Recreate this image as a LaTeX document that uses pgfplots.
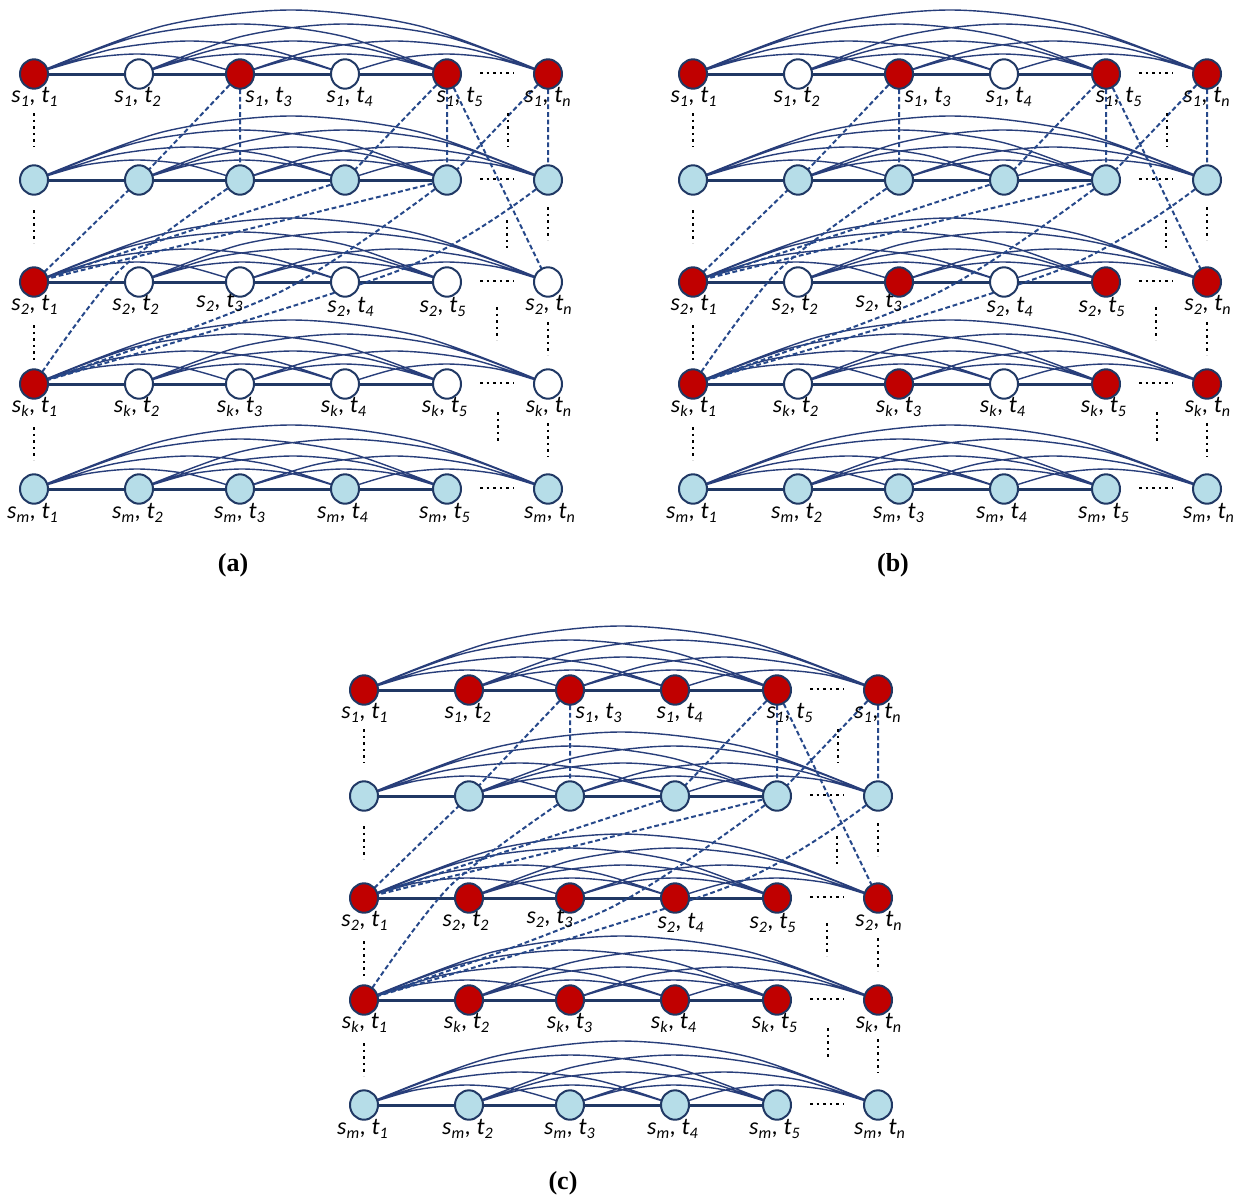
\documentclass[border=0pt]{standalone}
\usepackage{pgfplots}
\pgfplotsset{compat=1.18}
\usepackage{pgfplotstable}
\usepackage{fontspec}
\setmainfont{Liberation Serif}
\newfontfamily\lab{Carlito}

\definecolor{navy}{RGB}{32,56,100}
\definecolor{edge}{RGB}{40,62,122}
\definecolor{dashc}{RGB}{38,72,138}
\definecolor{nred}{RGB}{192,0,0}
\definecolor{nblue}{RGB}{182,221,232}

% all values in pixels of the reference, panel-local (t1 of row 1 at 0,0; y grows downwards)
\pgfplotstableread{
x y
0 0
51.5 -15
103 -20
154.5 -15
206 0
nan nan
105 0
156.5 -15
208 -20
259.5 -15
311 0
nan nan
206 0
257.75 -15
309.5 -20
361.25 -15
413 0
nan nan
311 0
361.75 -15
412.5 -20
463.25 -15
514 0
nan nan
0 0
77.75 -24.75
155.5 -33
233.25 -24.75
311 0
nan nan
105 0
182 -24.75
259 -33
336 -24.75
413 0
nan nan
206 0
283 -24.75
360 -33
437 -24.75
514 0
nan nan
0 0
103.25 -37.5
206.5 -50
309.75 -37.5
413 0
nan nan
105 0
207.25 -37.5
309.5 -50
411.75 -37.5
514 0
nan nan
0 0
128.5 -48
257 -64
385.5 -48
514 0
}\arcs

\pgfplotstableread{
x y
0 0
413 0
nan nan
0 106
413 106
nan nan
0 208
413 208
nan nan
0 310
413 310
nan nan
0 415
413 415
}\hlines

\pgfplotstableread{
x y
206 0
105 106
0 208
nan nan
206 0
206 106
nan nan
413 0
311 106
nan nan
413 0
413 106
nan nan
514 0
413 106
nan nan
514 0
514 106
nan nan
413 0
514 208
nan nan
311 106
0 208
nan nan
413 106
0 208
}\dashes

\pgfplotstableread{
x y
206 106
86 196
0 310
nan nan
413 106
246 218
0 310
nan nan
514 106
366 196
0 310
}\curves

\pgfplotstableread{
x y
0 39
0 73
nan nan
0 136
0 169
nan nan
0 251
0 286
nan nan
0 353
0 386
nan nan
474 39
474 73
nan nan
473 146
473 174
nan nan
514 133
514 166
nan nan
463 233
463 266
nan nan
514 248
514 281
nan nan
464 338
464 369
nan nan
514 349
514 383
nan nan
446 -1
480 -1
nan nan
446 105
480 105
nan nan
446 207
480 207
nan nan
446 309
480 309
nan nan
446 414
480 414
}\dotsT

\pgfplotstableread{
x y
0 106
105 106
206 106
311 106
413 106
514 106
0 415
105 415
206 415
311 415
413 415
514 415
}\blueN

\pgfplotstableread{
x y
0 0
206 0
413 0
514 0
0 208
0 310
}\redA
\pgfplotstableread{
x y
105 0
311 0
105 208
206 208
311 208
413 208
514 208
105 310
206 310
311 310
413 310
514 310
}\whiteA

\pgfplotstableread{
x y
0 0
206 0
413 0
514 0
0 208
206 208
413 208
514 208
0 310
206 310
413 310
514 310
}\redB
\pgfplotstableread{
x y
105 0
311 0
105 208
311 208
105 310
311 310
}\whiteB

\pgfplotstableread{
x y
0 0
105 0
206 0
311 0
413 0
514 0
0 208
105 208
206 208
311 208
413 208
514 208
0 310
105 310
206 310
311 310
413 310
514 310
}\redC

\pgfplotsset{
  table/sh/.style 2 args={x expr=\thisrow{x}+#1, y expr=\thisrow{y}+#2},
  arc/.style={edge, line width=0.7pt, smooth},
  hl/.style={navy, line width=1.5pt},
  dl/.style={dashc, line width=1pt, dash pattern=on 2.4pt off 1.4pt},
  dt/.style={black, line width=1.4pt, dash pattern=on 1.3pt off 2pt},
  nd/.style={only marks, mark=*, mark size=7pt,
    mark options={fill=#1, draw=navy, line width=1pt, yscale=1.05}},
}

\newcommand\st[2]{\textit{s\textsubscript{#1}, t\textsubscript{#2}}}
\newcommand\lb[3]{\node[font=\lab\fontsize{12}{13}\selectfont, inner sep=0pt] at (axis cs:#1,#2) {#3};}

\newcommand\panel[2]{%
  \addplot[arc] table[sh={#1}{#2}] {\arcs};
  \addplot[arc] table[sh={#1}{#2+106}] {\arcs};
  \addplot[arc] table[sh={#1}{#2+208}] {\arcs};
  \addplot[arc] table[sh={#1}{#2+310}] {\arcs};
  \addplot[arc] table[sh={#1}{#2+415}] {\arcs};
  \addplot[hl] table[sh={#1}{#2}] {\hlines};
  \addplot[dl] table[sh={#1}{#2}] {\dashes};
  \addplot[dl, smooth] table[sh={#1}{#2}] {\curves};
  \addplot[dt] table[sh={#1}{#2}] {\dotsT};
  \addplot[nd=nblue] table[sh={#1}{#2}] {\blueN};
  \lb{#1+1}{#2+23}{\st{1}{1}}
  \lb{#1+104}{#2+23}{\st{1}{2}}
  \lb{#1+235}{#2+23}{\st{1}{3}}
  \lb{#1+316}{#2+23}{\st{1}{4}}
  \lb{#1+426}{#2+23}{\st{1}{5}}
  \lb{#1+514}{#2+23}{\st{1}{n}}
  \lb{#1+1}{#2+231}{\st{2}{1}}
  \lb{#1+102}{#2+231}{\st{2}{2}}
  \lb{#1+186}{#2+228}{\st{2}{3}}
  \lb{#1+317}{#2+233}{\st{2}{4}}
  \lb{#1+409}{#2+233}{\st{2}{5}}
  \lb{#1+515}{#2+231}{\st{2}{n}}
  \lb{#1+1}{#2+333}{\st{k}{1}}
  \lb{#1+103}{#2+333}{\st{k}{2}}
  \lb{#1+206}{#2+333}{\st{k}{3}}
  \lb{#1+310}{#2+333}{\st{k}{4}}
  \lb{#1+411}{#2+333}{\st{k}{5}}
  \lb{#1+515}{#2+333}{\st{k}{n}}
  \lb{#1-1}{#2+439}{\st{m}{1}}
  \lb{#1+104}{#2+439}{\st{m}{2}}
  \lb{#1+206}{#2+439}{\st{m}{3}}
  \lb{#1+309}{#2+439}{\st{m}{4}}
  \lb{#1+411}{#2+439}{\st{m}{5}}
  \lb{#1+516}{#2+439}{\st{m}{n}}
}

\begin{document}
\begin{tikzpicture}
\begin{axis}[
  width=620.5pt, height=597.5pt, scale only axis,
  xmin=0, xmax=1241, ymin=0, ymax=1195, y dir=reverse,
  hide axis, clip=false, unbounded coords=jump,
]
% (a)
\panel{34}{74}
\addplot[nd=nred] table[sh={34}{74}] {\redA};
\addplot[nd=white] table[sh={34}{74}] {\whiteA};
% (b)
\panel{693}{74}
\addplot[nd=nred] table[sh={693}{74}] {\redB};
\addplot[nd=white] table[sh={693}{74}] {\whiteB};
% (c)
\panel{364}{690}
\addplot[nd=nred] table[sh={364}{690}] {\redC};

\node[font=\bfseries\fontsize{13}{15}\selectfont] at (axis cs:233,565) {(a)};
\node[font=\bfseries\fontsize{13}{15}\selectfont] at (axis cs:893,565) {(b)};
\node[font=\bfseries\fontsize{13}{15}\selectfont] at (axis cs:563,1183) {(c)};
\end{axis}
\pgfresetboundingbox
\path (0,0) rectangle (620.5pt,597.5pt);
\end{tikzpicture}
\end{document}
